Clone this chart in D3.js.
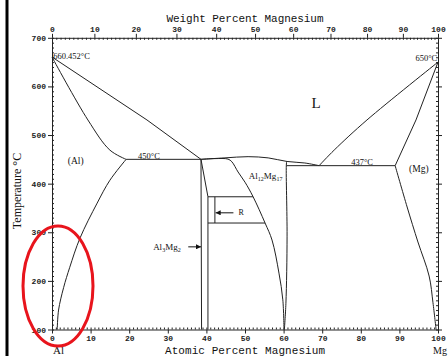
<!DOCTYPE html>
<html>
<head>
<meta charset="utf-8">
<script src="https://cdn.jsdelivr.net/npm/d3@7"></script>
<style>
  html, body { margin: 0; padding: 0; background: #fff; }
  svg { display: block; }
  .tick text { font-family: "Liberation Mono", monospace; font-size: 8px; font-weight: bold; fill: #222; }
  .axis path, .axis line { stroke: #222; }
</style>
</head>
<body>
<script>
// Axis tick values
const atomicTicks = [0, 10, 20, 30, 40, 50, 60, 70, 80, 90, 100];
const weightTicks = [0, 10, 20, 30, 40, 50, 60, 70, 80, 90, 100];
const tempTicks = [100, 200, 300, 400, 500, 600, 700];

// Phase boundaries, [atomic % Mg, temperature °C]
const alLiquidus = [[0, 660.452], [24.6, 531], [38.6, 450]];
const alSolidus = [[0, 660.452], [9.3, 531], [15.0, 469], [19.2, 450]];
const alSolvus = [[19.2, 450], [15.0, 407], [11.7, 360], [7.25, 288], [4.6, 228], [3.0, 186], [1.7, 140], [1.35, 100]];
const eutecticAl = [[19.2, 450], [38.6, 450]];
const beta1 = [[38.6, 450], [38.75, 100]];
const beta2 = [[38.6, 450], [40.4, 373], [40.4, 100]];
const rRight = [[42.2, 373], [42.2, 319]];
const rTop = [[40.4, 373], [52.1, 373]];
const rBottom = [[40.4, 319], [55.2, 319]];
const gammaLiquidus = [[38.6, 450], [44.8, 453], [50.8, 455.5], [56.0, 453], [60.9, 445.6], [65.5, 442.5], [69.2, 437]];
const gammaLeft = [[38.6, 450], [42.2, 451.5], [45.6, 450.5], [46.6, 445], [48.2, 424], [50.0, 403], [52.1, 373], [55.2, 319], [57.0, 284], [58.8, 216], [59.8, 161], [60.1, 100]];
const gammaRight = [[60.8, 446], [60.7, 437], [60.9, 292], [60.6, 154], [60.2, 100]];
const eutecticMg = [[60.7, 437], [88.9, 437]];
const mgLiquidus = [[69.2, 437], [73.1, 469], [81.6, 531], [100, 650]];
const mgSolidus = [[100, 650], [94.3, 531], [88.9, 437]];
const mgSolvus = [[88.9, 437], [92.0, 352], [94.8, 280], [97.7, 210], [98.7, 155], [99.5, 100]];

const boundaries = [alLiquidus, alSolidus, alSolvus, eutecticAl, beta1, beta2, rRight, rTop, rBottom,
  gammaLiquidus, gammaLeft, gammaRight, eutecticMg, mgLiquidus, mgSolidus, mgSolvus];

const W = 448, H = 356;
const svg = d3.select("body").append("svg").attr("width", W).attr("height", H);

const x = d3.scaleLinear().domain([0, 100]).range([52, 438]);
const y = d3.scaleLinear().domain([100, 700]).range([329.5, 37.8]);

// weight % -> atomic % for the Al-Mg system
const M_MG = 24.305, M_AL = 26.9815;
function wtToAt(w) {
  if (w <= 0) return 0;
  if (w >= 100) return 100;
  const nMg = w / M_MG, nAl = (100 - w) / M_AL;
  return 100 * nMg / (nMg + nAl);
}
const wtDomain = d3.range(0, 101);
const xw = d3.scaleLinear().domain(wtDomain).range(wtDomain.map(w => x(wtToAt(w))));

const plotTop = y(700), plotBottom = y(100), plotLeft = x(0), plotRight = x(100);

// page frame bar on the left
svg.append("line").attr("x1", 7).attr("x2", 7).attr("y1", 0).attr("y2", H)
  .attr("stroke", "#000").attr("stroke-width", 3);

// minor ticks (inside)
function minor(axisFn, scale, values, transform) {
  svg.append("g").attr("class", "axis").attr("transform", transform)
    .call(axisFn(scale).tickValues(values).tickSize(-2).tickFormat(""))
    .call(g => g.select(".domain").remove());
}
minor(d3.axisBottom, x, d3.range(0, 101, 1), `translate(0,${plotBottom})`);
minor(d3.axisTop, xw, d3.range(0, 101, 1), `translate(0,${plotTop})`);
minor(d3.axisLeft, y, d3.range(100, 701, 10), `translate(${plotLeft},0)`);
minor(d3.axisRight, y, d3.range(100, 701, 10), `translate(${plotRight},0)`);

// major axes
svg.append("g").attr("class", "axis").attr("transform", `translate(0,${plotBottom})`)
  .call(d3.axisBottom(x).tickValues(atomicTicks).tickSizeInner(4).tickSizeOuter(0).tickPadding(2));
svg.append("g").attr("class", "axis").attr("transform", `translate(0,${plotTop})`)
  .call(d3.axisTop(xw).tickValues(weightTicks).tickSizeInner(4).tickSizeOuter(0).tickPadding(2));
svg.append("g").attr("class", "axis").attr("transform", `translate(${plotLeft},0)`)
  .call(d3.axisLeft(y).tickValues(tempTicks).tickSizeInner(4).tickSizeOuter(0).tickPadding(2));
svg.append("g").attr("class", "axis").attr("transform", `translate(${plotRight},0)`)
  .call(d3.axisRight(y).tickValues(tempTicks).tickSizeInner(4).tickSizeOuter(0).tickFormat(""));

// phase boundaries
const straight = d3.line().x(d => x(d[0])).y(d => y(d[1]));
const smooth = d3.line().x(d => x(d[0])).y(d => y(d[1])).curve(d3.curveCatmullRom.alpha(0.5));
const g = svg.append("g").attr("fill", "none").attr("stroke", "#222").attr("stroke-width", 1);
boundaries.forEach(b => {
  g.append("path").attr("d", (b.length <= 3 ? straight : smooth)(b));
});

// titles
const serif = "'Liberation Serif', 'DejaVu Serif', serif";
const mono = "'Liberation Mono', monospace";
svg.append("text").attr("x", 245).attr("y", 22).attr("text-anchor", "middle")
  .attr("font-family", mono).attr("font-size", 11).attr("textLength", 157).attr("lengthAdjust", "spacing")
  .attr("fill", "#111").text("Weight Percent Magnesium");
svg.append("text").attr("x", 245).attr("y", 354).attr("text-anchor", "middle")
  .attr("font-family", mono).attr("font-size", 11).attr("textLength", 160).attr("lengthAdjust", "spacing")
  .attr("fill", "#111").text("Atomic Percent Magnesium");
svg.append("text").attr("transform", `translate(21,${191}) rotate(-90)`).attr("text-anchor", "middle")
  .attr("font-family", serif).attr("font-size", 12).attr("fill", "#111").text("Temperature °C");
svg.append("text").attr("x", x(0) + 1).attr("y", 354).attr("font-family", serif).attr("font-size", 11)
  .attr("fill", "#111").text("Al");
svg.append("text").attr("x", 447).attr("y", 354).attr("text-anchor", "end")
  .attr("font-family", serif).attr("font-size", 10).attr("fill", "#111").text("Mg");

// annotations
function label(txt, at, t, opts = {}) {
  return svg.append("text").attr("x", x(at)).attr("y", y(t))
    .attr("text-anchor", opts.anchor || "start")
    .attr("font-family", opts.family || serif).attr("font-size", opts.size || 9)
    .attr("fill", "#111").text(txt);
}
label("660.452°C", 0.3, 656.5, { size: 8.5 });
label("650°C", 99.8, 652, { size: 8.5, anchor: "end" });
label("L", 68.4, 556, { size: 15, anchor: "middle" });
label("(Al)", 4.1, 440, { size: 9.5 });
label("450°C", 22.3, 451.5, { size: 8.5 });
label("437°C", 77.5, 438.5, { size: 8.5 });
label("(Mg)", 92.5, 423, { size: 9.5 });

const al12 = label("", 51, 409, { size: 9 });
al12.append("tspan").text("Al");
al12.append("tspan").attr("font-size", 6).attr("dy", 2).text("12");
al12.append("tspan").attr("dy", -2).text("Mg");
al12.append("tspan").attr("font-size", 6).attr("dy", 2).text("17");

const al3 = label("", 26.2, 263, { size: 9 });
al3.append("tspan").text("Al");
al3.append("tspan").attr("font-size", 6).attr("dy", 2).text("3");
al3.append("tspan").attr("dy", -2).text("Mg");
al3.append("tspan").attr("font-size", 6).attr("dy", 2).text("2");

label("R", 48.3, 335, { size: 8 });

// arrows
const defs = svg.append("defs");
defs.append("marker").attr("id", "ah").attr("viewBox", "0 0 10 10").attr("refX", 10).attr("refY", 5)
  .attr("markerWidth", 6).attr("markerHeight", 5).attr("orient", "auto")
  .append("path").attr("d", "M0,0L10,5L0,10z").attr("fill", "#111");
function arrow(a0, a1, t) {
  svg.append("line").attr("x1", x(a0)).attr("x2", x(a1)).attr("y1", y(t)).attr("y2", y(t))
    .attr("stroke", "#111").attr("stroke-width", 1).attr("marker-end", "url(#ah)");
}
arrow(47.0, 42.4, 340);
arrow(35.3, 38.6, 270);

// highlight ellipse
svg.append("ellipse").attr("cx", 58).attr("cy", 286).attr("rx", 35).attr("ry", 60)
  .attr("fill", "none").attr("stroke", "#e8141c").attr("stroke-width", 3);
</script>
</body>
</html>
